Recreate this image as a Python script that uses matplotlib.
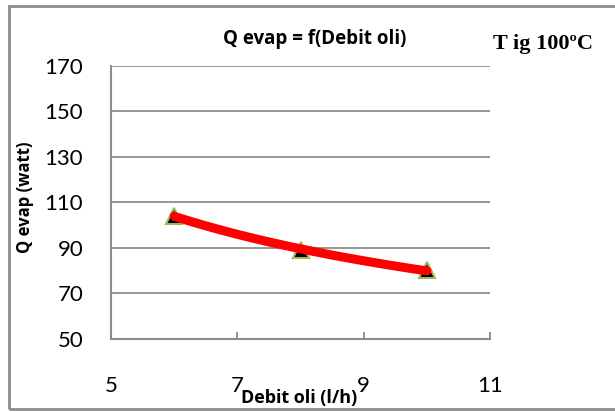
import numpy as np
import matplotlib.pyplot as plt
from matplotlib.patches import Rectangle

debit = np.array([6, 8, 10])
q_evap = np.array([104, 89, 80])

xticks = [5, 7, 9, 11]
yticks = [50, 70, 90, 110, 130, 150, 170]

plt.rcParams['font.family'] = ['Lato', 'DejaVu Sans']

fig = plt.figure(figsize=(6.15, 4.12), dpi=100)
ax = fig.add_axes([0.1805, 0.178, 0.6165, 0.663])

# power trendline through the points
b, lna = np.polyfit(np.log(debit), np.log(q_evap), 1)
xf = np.linspace(debit.min(), debit.max(), 100)
yf = np.exp(lna) * xf ** b

ax.plot(debit, q_evap, linestyle='none', marker='^', markersize=12,
        markerfacecolor='black', markeredgecolor='#9BBB59', markeredgewidth=1.5, zorder=3)
ax.plot(xf, yf, color='#FF0000', linewidth=6.5, solid_capstyle='round', zorder=4)

ax.set_xlim(5, 11)
ax.set_ylim(50, 170)
ax.set_xticks(xticks)
ax.set_yticks(yticks)
ax.grid(True, axis='y', color='#8C8C8C', linewidth=1.3)
ax.set_axisbelow(True)

for s in ['top', 'right']:
    ax.spines[s].set_visible(False)
for s in ['left', 'bottom']:
    ax.spines[s].set_color('#8C8C8C')
    ax.spines[s].set_linewidth(1.5)

ax.tick_params(axis='x', direction='in', length=5, width=1.3, color='#8C8C8C',
               pad=27, labelsize=16)
ax.tick_params(axis='y', length=0, pad=20, labelsize=16)

bold = dict(fontweight='bold', family='Open Sans')
fig.text(0.487, 0.034, 'Debit oli (l/h)', ha='center', va='center', fontsize=13, **bold)
fig.text(0.041, 0.522, 'Q evap (watt)', ha='center', va='center', rotation=90,
         fontsize=12, **bold)
fig.text(0.511, 0.906, 'Q evap = f(Debit oli)', ha='center', va='center',
         fontsize=13.5, **bold)
fig.text(0.801, 0.893, 'T ig 100ºC', ha='left', va='center',
         fontsize=16, fontweight='bold', family='Liberation Serif')

fig.patches.append(Rectangle((0.015, 0.008), 1.2, 0.978, transform=fig.transFigure,
                             fill=False, edgecolor='#8C8C8C', linewidth=2))

fig.savefig('out.png', dpi=100)
